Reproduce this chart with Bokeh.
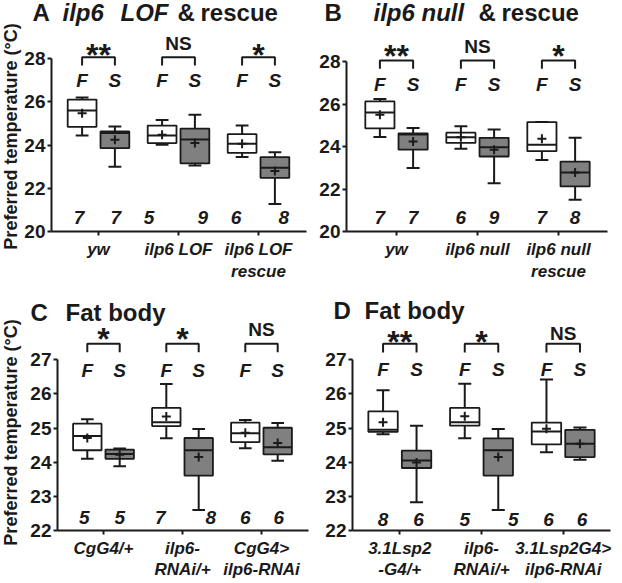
from bokeh.plotting import figure
from bokeh.layouts import column, row
from bokeh.models import Label, FixedTicker
from bokeh.embed import file_html
from bokeh.resources import INLINE

# ---------------- data (order within each list: F1, S1, F2, S2, F3, S3) ----------------
groupsA = ["yw", "ilp6 LOF", "ilp6 LOF\nrescue"]
A_low  = [24.44, 23.00, 24.01, 23.05, 23.44, 21.27]
A_q1   = [24.84, 23.86, 24.09, 23.15, 23.64, 22.48]
A_med  = [25.60, 24.55, 24.44, 24.26, 24.06, 22.95]
A_q3   = [26.10, 24.63, 24.90, 24.76, 24.50, 23.44]
A_high = [26.20, 24.86, 25.16, 25.40, 24.90, 23.67]
A_mean = [25.47, 24.24, 24.47, 24.09, 24.06, 22.80]
A_n    = [7, 7, 5, 9, 6, 8]
A_sig  = ["**", "NS", "*"]

groupsB = ["yw", "ilp6 null", "ilp6 null\nrescue"]
B_low  = [24.45, 22.99, 23.90, 22.27, 23.37, 21.49]
B_q1   = [24.85, 23.85, 24.17, 23.53, 23.78, 22.12]
B_med  = [25.60, 24.57, 24.44, 23.97, 24.08, 22.78]
B_q3   = [26.12, 24.62, 24.65, 24.41, 25.15, 23.29]
B_high = [26.23, 24.87, 24.95, 24.80, 25.15, 24.41]
B_mean = [25.50, 24.24, 24.44, 23.85, 24.36, 22.78]
B_n    = [7, 7, 6, 9, 7, 8]
B_sig  = ["**", "NS", "*"]

groupsC = ["CgG4/+", "ilp6-\nRNAi/+", "CgG4>\nilp6-RNAi"]
C_low  = [24.10, 23.88, 24.70, 22.60, 24.41, 24.04]
C_q1   = [24.35, 24.10, 25.06, 23.61, 24.59, 24.23]
C_med  = [24.77, 24.24, 25.17, 24.35, 24.85, 24.44]
C_q3   = [25.13, 24.37, 25.59, 24.71, 25.16, 25.01]
C_high = [25.26, 24.40, 26.29, 24.97, 25.24, 25.15]
C_mean = [24.71, 24.22, 25.34, 24.15, 24.86, 24.56]
C_n    = [5, 5, 7, 8, 6, 6]
C_sig  = ["*", "*", "NS"]

groupsD = ["3.1Lsp2\n-G4/+", "ilp6-\nRNAi/+", "3.1Lsp2G4>\nilp6-RNAi"]
D_low  = [24.82, 22.83, 24.70, 22.60, 24.29, 24.07]
D_q1   = [24.89, 23.83, 25.07, 23.61, 24.52, 24.15]
D_med  = [24.95, 24.05, 25.17, 24.35, 24.90, 24.54]
D_q3   = [25.49, 24.34, 25.59, 24.70, 25.16, 24.95]
D_high = [26.11, 25.07, 26.30, 24.97, 26.42, 25.02]
D_mean = [25.17, 23.99, 25.35, 24.15, 24.98, 24.54]
D_n    = [8, 6, 5, 5, 6, 6]
D_sig  = ["**", "*", "NS"]

conditions = ["F", "S"]
ticksAB = [20, 22, 24, 26, 28]
ticksCD = [22, 23, 24, 25, 26, 27]
ylabel_text = "Preferred temperature (°C)"

# ---------------- styles ----------------
FONT = "Liberation Sans"
INK = "#1a1a1a"
FILLS = ["white", "#808080"]
OFF = 0.205
HALF = 0.18
CAP = 0.08
K = 0.34   # baseline correction factor for text placement

panels = [
    dict(ox=0, oy=0, w=311, h=290, ax_px=51, sx=80, x_lo=0.4125, x_hi=3.6,
         ax_py=231, sy=21.625, y_lo=20, y_hi=28, ticks=ticksAB, groups=groupsA,
         stats=(A_low, A_q1, A_med, A_q3, A_high, A_mean), n=A_n, sig=A_sig,
         title=[("A", 32, "bold"), ("ilp6", 62, "bold italic"), ("LOF", 120, "bold italic"),
                ("&", 177, "bold"), ("rescue", 200, "bold")], title_base=20,
         ylabel=(10, 136), fs_base=86, br_top=56.7, br_leg=65, star_c=47, ns_c=42.5,
         n_base=223, n_off=[-3, 1, -13, 8, -6, 9], standoff=4, lh=1.2),
    dict(ox=311, oy=0, w=311, h=290, ax_px=346, sx=81, x_lo=0.3827, x_hi=3.605,
         ax_py=231, sy=21.25, y_lo=20, y_hi=28, ticks=ticksAB, groups=groupsB,
         stats=(B_low, B_q1, B_med, B_q3, B_high, B_mean), n=B_n, sig=B_sig,
         title=[("B", 324, "bold"), ("ilp6 null", 373, "bold italic"), ("&", 478, "bold"),
                ("rescue", 501, "bold")], title_base=20,
         ylabel=None, fs_base=90, br_top=60, br_leg=68.3, star_c=47.5, ns_c=46,
         n_base=223, n_off=[0, 0, 0, 0, 0, 0], standoff=4, lh=1.2),
    dict(ox=0, oy=290, w=311, h=293, ax_px=57, sx=79, x_lo=0.4177, x_hi=3.595,
         ax_py=530, sy=34.14, y_lo=22, y_hi=27, ticks=ticksCD, groups=groupsC,
         stats=(C_low, C_q1, C_med, C_q3, C_high, C_mean), n=C_n, sig=C_sig,
         title=[("C", 30, "bold"), ("Fat body", 65, "bold")], title_base=320,
         ylabel=(10, 432), fs_base=376, br_top=343.3, br_leg=351.7, star_c=330.5, ns_c=329,
         n_base=523, n_off=[-3, 0, -6, 12, 0, 1], standoff=4, lh=1.15),
    dict(ox=311, oy=290, w=311, h=293, ax_px=352, sx=81.7, x_lo=0.421, x_hi=3.579,
         ax_py=530, sy=34.14, y_lo=22, y_hi=27, ticks=ticksCD, groups=groupsD,
         stats=(D_low, D_q1, D_med, D_q3, D_high, D_mean), n=D_n, sig=D_sig,
         title=[("D", 333, "bold"), ("Fat body", 364, "bold")], title_base=318,
         ylabel=None, fs_base=375, br_top=343.3, br_leg=352, star_c=334, ns_c=332.5,
         n_base=525, n_off=[0, 2, 0, 15, 2, 2], standoff=4, lh=1.15),
]


def build(c):
    sx, sy = c["sx"], c["sy"]
    x0 = c["x_lo"] - (c["ax_px"] - c["ox"]) / sx
    x1 = x0 + c["w"] / sx
    y0 = c["y_lo"] - (c["oy"] + c["h"] - c["ax_py"]) / sy
    y1 = y0 + c["h"] / sy
    p = figure(width=c["w"], height=c["h"], x_range=(x0, x1), y_range=(y0, y1),
               output_backend="svg", toolbar_location=None, title=None,
               min_border_left=0, min_border_right=0, min_border_top=0, min_border_bottom=0)
    p.outline_line_color = None
    p.grid.visible = False
    p.background_fill_color = "white"
    p.border_fill_color = "white"

    dx = lambda px: x0 + (px - c["ox"]) / sx
    dy = lambda py: y0 + (c["oy"] + c["h"] - py) / sy

    def lab(px, py_base, text, size, style, align="center", base="alphabetic", angle=0):
        yy = py_base - K * size if base == "alphabetic" else py_base
        p.add_layout(Label(x=dx(px), y=dy(yy), text=text, text_font=FONT,
                           text_font_size=f"{size}px", text_font_style=style,
                           text_color=INK, text_align=align, text_baseline=base,
                           angle=angle, angle_units="deg"))

    low, q1, med, q3, high, mean = c["stats"]
    centers = [g + o for g in (1, 2, 3) for o in (-OFF, OFF)]
    fills = FILLS * 3

    # whiskers and caps
    p.segment(x0=centers, y0=low, x1=centers, y1=q1, line_color=INK, line_width=2)
    p.segment(x0=centers, y0=q3, x1=centers, y1=high, line_color=INK, line_width=2)
    p.segment(x0=[x - CAP for x in centers], y0=low, x1=[x + CAP for x in centers], y1=low,
              line_color=INK, line_width=2)
    p.segment(x0=[x - CAP for x in centers], y0=high, x1=[x + CAP for x in centers], y1=high,
              line_color=INK, line_width=2)
    # boxes, medians, means
    p.vbar(x=centers, width=2 * HALF, bottom=q1, top=q3, fill_color=fills,
           line_color=INK, line_width=1.8)
    p.segment(x0=[x - HALF for x in centers], y0=med, x1=[x + HALF for x in centers], y1=med,
              line_color=INK, line_width=2)
    p.scatter(x=centers, y=mean, marker="cross", size=9, line_color=INK, line_width=2)

    # brackets
    bt, bl_ = dy(c["br_top"]), dy(c["br_leg"])
    xs = [[centers[2 * i], centers[2 * i], centers[2 * i + 1], centers[2 * i + 1]] for i in range(3)]
    ys = [[bl_, bt, bt, bl_] for _ in range(3)]
    p.multi_line(xs=xs, ys=ys, line_color=INK, line_width=2)

    to_px = lambda x: c["ox"] + (x - x0) * sx
    # F / S labels and n-counts
    for i, x in enumerate(centers):
        lab(to_px(x), c["fs_base"], conditions[i % 2], 19, "bold italic")
        lab(to_px(x) + c["n_off"][i], c["n_base"], str(c["n"][i]), 19, "bold italic")
    # significance
    for g, s in zip((1, 2, 3), c["sig"]):
        if s == "NS":
            lab(to_px(g), c["ns_c"] + 0.36 * 19, s, 19, "bold")
        else:
            lab(to_px(g), c["star_c"] + 0.58 * 32, s, 32, "bold")
    # title
    for txt, px, st in c["title"]:
        lab(px, c["title_base"], txt, 24, st, align="left")
    # y label
    if c["ylabel"]:
        lx, ly = c["ylabel"]
        lab(lx, ly, ylabel_text, 18, "bold", base="middle", angle=90)

    # axes placed at fixed locations inside the full-size frame
    p.xaxis.ticker = FixedTicker(ticks=[1, 2, 3])
    p.xaxis.major_label_overrides = {1: c["groups"][0], 2: c["groups"][1], 3: c["groups"][2]}
    p.xaxis.fixed_location = c["y_lo"]
    p.xaxis.bounds = (c["x_lo"], c["x_hi"])
    p.yaxis.ticker = FixedTicker(ticks=c["ticks"])
    p.yaxis.fixed_location = c["x_lo"]
    p.yaxis.bounds = (c["y_lo"], c["y_hi"])
    for ax in (p.xaxis[0], p.yaxis[0]):
        ax.axis_line_width = 2
        ax.axis_line_color = INK
        ax.major_tick_line_width = 2
        ax.major_tick_line_color = INK
        ax.major_tick_in = 0
        ax.major_tick_out = 4
        ax.minor_tick_line_color = None
        ax.major_label_text_font = FONT
        ax.major_label_text_color = INK
    p.xaxis.major_label_text_font_size = "17px"
    p.xaxis.major_label_text_font_style = "bold italic"
    p.xaxis.major_label_standoff = c["standoff"]
    p.xaxis.major_label_text_line_height = c["lh"]
    p.yaxis.major_label_text_font_size = "19px"
    p.yaxis.major_label_text_font_style = "bold"
    p.yaxis.major_label_standoff = 2
    return p


figs = [build(c) for c in panels]
layout = column(row(figs[0], figs[1]), row(figs[2], figs[3]))
open("out.html", "w").write(file_html(layout, INLINE))
